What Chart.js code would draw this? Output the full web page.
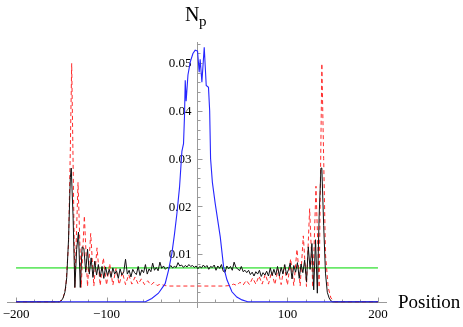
<!DOCTYPE html>
<html>
<head>
<meta charset="utf-8">
<script src="https://cdn.jsdelivr.net/npm/chart.js@4/dist/chart.umd.min.js"></script>
<style>
  body { margin: 0; background: #fff; }
  #np { display: block; }
</style>
</head>
<body>
<canvas id="np" width="463" height="327"></canvas>
<script>
// blue: central packet
const blueX = [-200, -57, -50, -42.6, -35.2, -31.5, -27.8, -25, -22.2, -19.3, -16.7, -14.9, -13.8, -13, -12, -10, -7.5, -4.5, -2, 0.6, 2.4, 3.5, 5.4, 8, 10.2, 12.7, 14, 15, 17, 20.1, 25.7, 29.4, 33.1, 38.6, 44, 49.7, 56, 200];
const blueY = [0, 0, 0.0007, 0.0018, 0.0038, 0.0066, 0.0101, 0.014, 0.0185, 0.024, 0.0315, 0.0331, 0.039, 0.0464, 0.042, 0.0475, 0.0502, 0.052, 0.0527, 0.0525, 0.0481, 0.0508, 0.046, 0.0533, 0.0453, 0.0449, 0.04, 0.03, 0.025, 0.0206, 0.0136, 0.0073, 0.0046, 0.0021, 0.001, 0.0004, 0, 0];

// black: noisy profile
const blackX = [-200, -152, -150, -148, -146, -144, -142, -140, -139, -137, -135, -133, -131, -129, -127, -125, -123, -121, -119, -117, -115, -113, -111, -109, -107, -105, -103, -101, -99, -97, -95, -93, -91, -89, -87, -85, -83, -81, -79, -77, -75, -73, -71, -69, -67, -65, -63, -61, -59, -57, -55, -53, -51, -49, -47, -45, -43, -41, -39, -37, -35, -33, -31, -29, -27, -25, -23, -21, -19, -17, -15, -13, -11, -9, -7, -5, -3, -1, 1, 3, 5, 7, 9, 11, 13, 15, 17, 19, 21, 23, 25, 27, 29, 31, 33, 35, 37, 39, 41, 43, 45, 47, 49, 51, 53, 55, 57, 59, 61, 63, 65, 67, 69, 71, 73, 75, 77, 79, 81, 83, 85, 87, 89, 91, 93, 95, 97, 99, 101, 103, 105, 107, 109, 111, 113, 115, 117, 119, 121, 123, 125, 127, 129, 131, 133, 135, 137, 138, 140, 142, 144, 146, 148, 150, 200];
const blackY = [0, 0, 0.0002, 0.0008, 0.002, 0.005, 0.013, 0.026, 0.028, 0.018, 0.003, 0.011, 0.0146, 0.003, 0.0115, 0.0112, 0.0062, 0.011, 0.0058, 0.0092, 0.0051, 0.0085, 0.0056, 0.0078, 0.0052, 0.0074, 0.0049, 0.0073, 0.0055, 0.0068, 0.0051, 0.0071, 0.0058, 0.0065, 0.0049, 0.0069, 0.0056, 0.0062, 0.0089, 0.0058, 0.0066, 0.0052, 0.0068, 0.0061, 0.0057, 0.0074, 0.0055, 0.0067, 0.0061, 0.0078, 0.0058, 0.0069, 0.0063, 0.0081, 0.0066, 0.0072, 0.0065, 0.0083, 0.007, 0.0075, 0.0068, 0.0072, 0.007, 0.0076, 0.0071, 0.0074, 0.0072, 0.0082, 0.0075, 0.0077, 0.0072, 0.0076, 0.0073, 0.0078, 0.0074, 0.0076, 0.0072, 0.0075, 0.0069, 0.0074, 0.0071, 0.0077, 0.0072, 0.0076, 0.0068, 0.0074, 0.0072, 0.0077, 0.0066, 0.0075, 0.007, 0.0078, 0.0064, 0.0062, 0.0075, 0.0069, 0.0074, 0.0066, 0.0083, 0.0072, 0.0069, 0.0065, 0.0074, 0.0063, 0.0066, 0.0061, 0.0066, 0.0057, 0.0062, 0.0054, 0.0063, 0.0058, 0.0066, 0.0053, 0.0061, 0.0056, 0.0064, 0.0054, 0.0071, 0.0055, 0.0068, 0.0056, 0.0074, 0.0054, 0.0072, 0.0058, 0.0078, 0.0056, 0.0067, 0.0081, 0.0048, 0.0076, 0.0062, 0.0082, 0.0049, 0.0079, 0.0061, 0.0087, 0.0042, 0.0115, 0.0068, 0.0122, 0.0025, 0.013, 0.0018, 0.018, 0.028, 0.028, 0.016, 0.006, 0.002, 0.0008, 0.0002, 0, 0];

// red dashed: oscillating edges
const redX = [-200, -152, -148, -145, -142, -140, -138.5, -135, -131.5, -128, -124.5, -121, -117.5, -114, -110.5, -107, -103.5, -100, -96.5, -93, -89.5, -86, -82.5, -79, -75.5, -72, -68.5, -65, -61.5, -58, -54.5, -51, -47.5, -44, -40.5, -36, -30, 30, 36, 40.5, 44, 47.5, 51, 54.5, 58, 61.5, 65, 68.5, 72, 75.5, 79, 82.5, 86, 89.5, 93, 96.5, 100, 103.5, 107, 110.5, 114, 117.5, 121, 124.5, 128, 131.5, 135, 138, 140, 142, 145, 148, 152, 200];
const redY = [0, 0, 0.0008, 0.003, 0.012, 0.032, 0.0499, 0.003, 0.025, 0.003, 0.018, 0.0032, 0.0143, 0.0033, 0.0113, 0.0034, 0.0092, 0.0035, 0.008, 0.0035, 0.007, 0.0036, 0.0062, 0.0036, 0.0057, 0.0037, 0.0052, 0.0037, 0.0048, 0.0036, 0.0044, 0.0035, 0.0041, 0.0034, 0.0037, 0.0034, 0.0033, 0.0033, 0.0034, 0.0037, 0.0034, 0.0041, 0.0035, 0.0045, 0.0036, 0.005, 0.0037, 0.0054, 0.0037, 0.0058, 0.0037, 0.0063, 0.0036, 0.0068, 0.0036, 0.0076, 0.0035, 0.009, 0.0034, 0.011, 0.0033, 0.0138, 0.0032, 0.0195, 0.003, 0.0242, 0.003, 0.0499, 0.03, 0.01, 0.003, 0.0008, 0, 0];

// green: flat reference level
const greenX = [-200, 200];
const greenY = [0.0071, 0.0071];

const xMajor = [-200, -100, 100, 200];
const xMajorLabels = ["\u2212200", "\u2212100", "100", "200"];
const xMinor = [-180, -160, -140, -120, -80, -60, -40, -20, 20, 40, 60, 80, 120, 140, 160, 180];
const yMajor = [0.01, 0.02, 0.03, 0.04, 0.05];
const yMajorLabels = ["0.01", "0.02", "0.03", "0.04", "0.05"];
const yMinor = [0.002, 0.004, 0.006, 0.008, 0.012, 0.014, 0.016, 0.018, 0.022, 0.024, 0.026, 0.028, 0.032, 0.034, 0.036, 0.038, 0.042, 0.044, 0.046, 0.048, 0.052, 0.054];

function pts(xs, ys) {
    return xs.map((x, i) => ({ x: x, y: ys[i] }));
}

const serif = "'Liberation Serif', 'DejaVu Serif', serif";

// Mathematica-like axes crossing at the origin
const axesPlugin = {
    id: "axes",
    beforeDatasetsDraw(chart) {
        const c = chart.ctx;
        const sx = chart.scales.x;
        const sy = chart.scales.y;
        const x0 = Math.round(sx.getPixelForValue(0)) + 0.5;
        const y0 = Math.round(sy.getPixelForValue(0)) + 0.5;
        c.save();
        c.strokeStyle = "#9a9a9a";
        c.lineWidth = 1;
        c.beginPath();
        c.moveTo(sx.left, y0);
        c.lineTo(sx.right, y0);
        c.moveTo(x0, sy.top);
        c.lineTo(x0, sy.bottom);
        xMajor.forEach((v) => {
            const p = Math.round(sx.getPixelForValue(v)) + 0.5;
            c.moveTo(p, y0);
            c.lineTo(p, y0 - 5);
        });
        xMinor.forEach((v) => {
            const p = Math.round(sx.getPixelForValue(v)) + 0.5;
            c.moveTo(p, y0);
            c.lineTo(p, y0 - 3);
        });
        yMajor.forEach((v) => {
            const p = Math.round(sy.getPixelForValue(v)) + 0.5;
            c.moveTo(x0, p);
            c.lineTo(x0 + 5, p);
        });
        yMinor.forEach((v) => {
            const p = Math.round(sy.getPixelForValue(v)) + 0.5;
            c.moveTo(x0, p);
            c.lineTo(x0 + 3, p);
        });
        c.stroke();

        c.fillStyle = "#000";
        c.font = "13px " + serif;
        c.textAlign = "center";
        c.textBaseline = "middle";
        xMajor.forEach((v, i) => {
            c.fillText(xMajorLabels[i], sx.getPixelForValue(v), y0 + 12);
        });
        c.textAlign = "right";
        yMajor.forEach((v, i) => {
            c.fillText(yMajorLabels[i], x0 - 6, sy.getPixelForValue(v) + 1);
        });

        c.textBaseline = "alphabetic";
        c.textAlign = "left";
        c.font = "20px " + serif;
        c.fillText("N", 185, 21);
        c.font = "15px " + serif;
        c.fillText("p", 199, 26);
        c.font = "19px " + serif;
        c.fillText("Position", 398, 308);
        c.restore();
    },
};

const chart = new Chart(document.getElementById("np").getContext("2d"), {
    type: "scatter",
    data: {
        datasets: [{
                label: "blue",
                data: pts(blueX, blueY),
                borderColor: "#2626ff",
                borderWidth: 1.1,
            },
            {
                label: "black",
                data: pts(blackX, blackY),
                borderColor: "#111111",
                borderWidth: 1,
            },
            {
                label: "red",
                data: pts(redX, redY),
                borderColor: "#ff2a2a",
                borderWidth: 1,
                borderDash: [4, 3],
            },
            {
                label: "green",
                data: pts(greenX, greenY),
                borderColor: "#6ae86a",
                borderWidth: 1.8,
            },
        ],
    },
    options: {
        responsive: false,
        animation: false,
        devicePixelRatio: 1,
        showLine: true,
        elements: {
            point: { radius: 0 },
            line: { tension: 0, fill: false },
        },
        layout: {
            padding: { left: 7, right: 76, top: 42, bottom: 19 },
        },
        plugins: {
            legend: { display: false },
            tooltip: { enabled: false },
        },
        scales: {
            x: { type: "linear", min: -210, max: 210, display: false },
            y: { type: "linear", min: -0.0013, max: 0.0544, display: false },
        },
    },
    plugins: [axesPlugin],
});
</script>
</body>
</html>
